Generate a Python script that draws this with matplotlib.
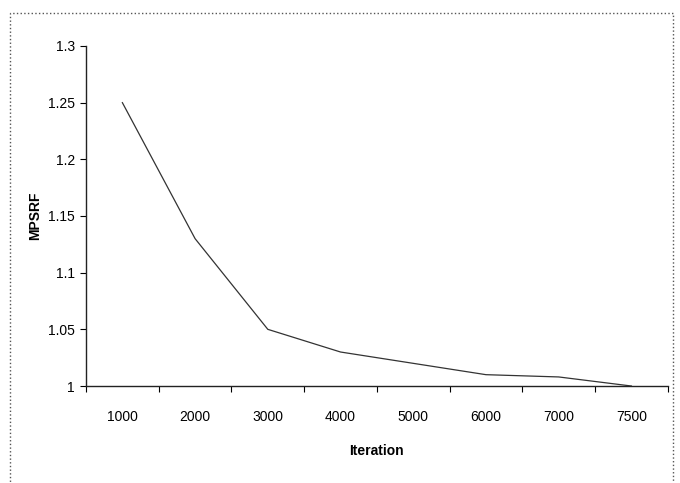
import numpy as np
import matplotlib.pyplot as plt
from matplotlib.patches import Rectangle

# valores
iteracoes = ['1000', '2000', '3000', '4000', '5000', '6000', '7000', '7500']
mpsrf = [1.25, 1.13, 1.05, 1.03, 1.02, 1.01, 1.008, 1.0]
y_ticks = [1, 1.05, 1.1, 1.15, 1.2, 1.25, 1.3]
y_labels = ['1', '1.05', '1.1', '1.15', '1.2', '1.25', '1.3']

plt.rcParams['font.family'] = ['Liberation Sans', 'DejaVu Sans']

fig = plt.figure(figsize=(6.8, 4.83), dpi=100)
ax = fig.add_axes([0.1265, 0.2008, 0.8555, 0.704])

pos = np.arange(len(iteracoes))
ax.plot(pos, mpsrf, color='#333333', linewidth=0.9)

ax.set_xlim(-0.5, len(iteracoes) - 0.5)
ax.set_ylim(1, 1.3)
ax.set_yticks(y_ticks)
ax.set_yticklabels(y_labels, fontsize=10)

# ticks nas fronteiras das categorias, rotulos no centro
ax.set_xticks(np.arange(len(iteracoes) + 1) - 0.5)
ax.set_xticklabels([])
ax.set_xticks(pos, minor=True)
ax.set_xticklabels(iteracoes, minor=True, fontsize=10)
ax.tick_params(axis='x', which='minor', length=0, pad=17)
ax.tick_params(axis='x', which='major', length=4, width=0.8, direction='out')
ax.tick_params(axis='y', length=4, width=0.8, direction='out', pad=4)

for s in ['top', 'right']:
    ax.spines[s].set_visible(False)
for s in ['left', 'bottom']:
    ax.spines[s].set_color('#222222')
    ax.spines[s].set_linewidth(1.0)

ax.set_xlabel('Iteration', fontsize=10, fontweight='bold', labelpad=15)
ax.set_ylabel('MPSRF', fontsize=10, fontweight='bold', labelpad=4)

# moldura externa do grafico (borda inferior fora da imagem)
fig.patches.append(Rectangle((10 / 680, -10 / 483), 663 / 680, 480 / 483,
                             transform=fig.transFigure, fill=False,
                             edgecolor='#555555', linewidth=1.0, linestyle=':'))

fig.savefig('out.png', dpi=100)
